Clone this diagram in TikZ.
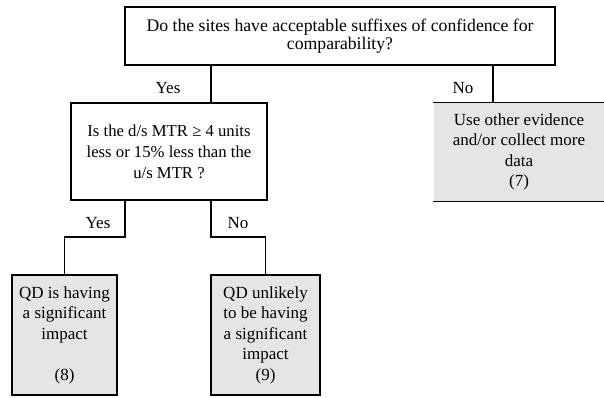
\documentclass[tikz,border=0pt]{standalone}
\usepackage{fontspec}
\setmainfont{Liberation Serif}
\begin{document}
\begin{tikzpicture}[x=1pt,y=-1pt,
  box/.style={draw=black, line width=1.3pt, inner sep=0pt, align=center, font=\fontsize{17}{20.5}\selectfont},
  endbox/.style={box, fill=black!10},
  conn/.style={draw=black, line width=1.3pt},
  lbl/.style={font=\fontsize{17}{18}\selectfont, inner sep=0pt}]
\useasboundingbox (0,0) rectangle (604,397);
\node[box, minimum width=430pt, minimum height=58pt, font=\fontsize{17.7}{17.7}\selectfont] (q1) at (340,36)
  {Do the sites have acceptable suffixes of confidence for\\comparability?};
\node[box, minimum width=196pt, minimum height=97pt, font=\fontsize{16.7}{21}\selectfont] (q2) at (169,151.5)
  {Is the d/s MTR ≥ 4 units\\less or 15\% less than the\\u/s MTR ?};
\node[endbox, draw=none, minimum width=170pt, minimum height=98pt] (r7) at (519,152)
  {Use other evidence\\and/or collect more\\data\\(7)};
\draw[conn] (r7.north west) -- (r7.north east);
\draw[conn] (r7.south west) -- (r7.south east);
\node[endbox, minimum width=105pt, minimum height=120pt] (r8) at (64.5,335)
  {QD is having\\a significant\\impact\\[20.5pt](8)};
\node[endbox, minimum width=109pt, minimum height=120pt] (r9) at (265.5,335)
  {QD unlikely\\to be having\\a significant\\impact\\(9)};
\coordinate (a1) at (211,65);
\coordinate (a2) at (493,65);
\draw[conn] (a1) -- (a1 |- q2.north);
\draw[conn] (a2) -- (a2 |- r7.north);
\coordinate (b1) at (125,200);
\coordinate (b2) at (211,200);
\draw[conn] (b1) -- (125,237) -| (r8.north);
\draw[conn] (b2) -- (211,237) -| (r9.north);
\node[lbl] (l1) at (168,88) {Yes};
\node[lbl] (l2) at (463,88) {No};
\node[lbl] (l3) at (98,223) {Yes};
\node[lbl] (l4) at (238,223) {No};
\end{tikzpicture}
\end{document}
